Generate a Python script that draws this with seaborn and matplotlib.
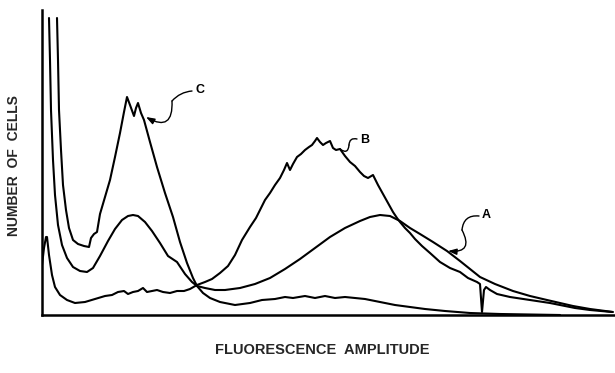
import matplotlib
matplotlib.use("Agg")
import matplotlib.pyplot as plt
import seaborn as sns
import pandas as pd

# channel (fluorescence amplitude) and counts
a_x = [7, 8, 9, 11, 13, 16, 20, 25, 31, 38, 45, 51, 58, 66, 73, 80, 86, 91, 96, 103, 110, 118, 126,
       135, 143, 150, 155, 163, 173, 183, 198, 213, 228, 243, 258, 273, 288, 303, 318, 328, 338, 348,
       358, 368, 378, 391, 405, 418, 428, 438, 453, 471, 488, 505, 518, 531, 548, 571]
a_y = [297, 255, 205, 155, 120, 90, 70, 57, 48, 44, 43, 47, 59, 74, 86, 95, 99, 100, 99, 93, 84, 72, 59,
       53, 41, 33, 29, 27, 25, 25, 27, 31, 37, 46, 56, 67, 78, 87, 94, 98, 100, 99,
       94, 87, 81, 73, 64, 54, 46, 38, 31, 24, 19, 15, 12, 9, 6, 3]

b_x = [0, 2, 4, 5, 7, 10, 13, 18, 25, 33, 43, 53, 63, 70, 76, 82, 86, 91, 96, 101, 105, 110, 115, 121,
       128, 135, 142, 148, 155, 163, 170, 178, 186, 193, 200, 208, 214, 218, 223, 228, 233, 238, 242,
       245, 248, 251, 255, 259, 263, 267, 270, 273, 275, 278, 281, 284, 288, 291, 294, 298, 303, 308,
       313, 318, 322, 326, 331, 336, 341, 346, 351, 355, 358, 363, 368, 373, 380, 388, 398, 408, 418,
       426, 435, 438, 440, 442, 444, 448, 455, 468, 488, 508, 523, 533, 548, 570]
b_y = [50, 67, 78, 78, 60, 40, 28, 20, 15, 12, 13, 16, 19, 20, 23, 24, 21, 23, 24, 27, 23, 24, 25, 23,
       22, 24, 24, 26, 30, 33, 36, 42, 49, 60, 75, 88, 97, 105, 115, 122, 130, 137, 145,
       152, 145, 151, 158, 161, 165, 168, 170, 174, 177, 173, 170, 172, 174, 167, 165, 166, 159, 153,
       149, 143, 139, 137, 140, 130, 121, 112, 103, 97, 93, 87, 82, 76, 69, 62, 53, 47, 43,
       37, 33, 31, 3, 25, 28, 25, 21, 18, 15, 12, 9, 7, 5, 3]

c_x = [15, 16, 17, 19, 21, 24, 27, 31, 36, 42, 47, 49, 52, 55, 58, 63, 68, 73, 78, 82, 85, 88, 92, 94,
       96, 99, 102, 108, 115, 123, 131, 138, 145, 151, 155, 161, 168, 178, 193, 208, 220, 233, 243,
       251, 263, 273, 283, 293, 303, 313, 323, 338, 353, 368, 383, 403, 428, 458, 518]
c_y = [297, 255, 205, 165, 130, 105, 87, 75, 71, 69, 68, 77, 81, 83, 101, 118, 135, 158, 182, 203, 218,
       210, 199, 207, 212, 202, 195, 173, 148, 122, 98, 73, 52, 37, 29, 22, 17, 13, 10, 12, 15, 16,
       18, 17, 19, 17, 19, 17, 18, 17, 16, 13, 10, 8, 6, 4, 2, 1, 0]

labels = ["A", "B", "C"]

frames = []
for name, xs, ys in [("A", a_x, a_y), ("B", b_x, b_y), ("C", c_x, c_y)]:
    frames.append(pd.DataFrame({"amplitude": xs, "cells": ys, "curve": name,
                                "order": range(len(xs))}))
df = pd.concat(frames, ignore_index=True)

sns.set_style("white")
plt.rcParams["font.family"] = ["Liberation Sans", "DejaVu Sans"]

fig = plt.figure(figsize=(6.15, 3.73), dpi=100)
ax = fig.add_axes([42 / 615, 58 / 373, 573 / 615, 305 / 373])

for name in labels:
    sub = df[df["curve"] == name]
    sns.lineplot(data=sub, x="amplitude", y="cells", sort=False, estimator=None,
                 color="black", linewidth=1.5, ax=ax)

ax.set_xlim(0, 573)
ax.set_ylim(0, 305)
ax.set_xticks([])
ax.set_yticks([])
ax.set_xlabel("")
ax.set_ylabel("")
for s in ["top", "right"]:
    ax.spines[s].set_visible(False)
for s in ["left", "bottom"]:
    ax.spines[s].set_color("black")
    ax.spines[s].set_linewidth(1.8)

tfont = dict(fontsize=9, fontweight="bold", color="black", ha="center", va="center")

# curve labels with squiggly leaders
def leader(label, text_xy, start, mid, tip, r1, r2, arrow=True):
    ax.text(text_xy[0], text_xy[1], label, **tfont)
    ax.annotate("", xy=mid, xytext=start,
                arrowprops=dict(arrowstyle="-", color="black", lw=1.0,
                                connectionstyle=f"arc3,rad={r1}", shrinkA=0, shrinkB=0))
    ax.annotate("", xy=tip, xytext=mid,
                arrowprops=dict(arrowstyle="-|>,head_length=0.5,head_width=0.18" if arrow else "-",
                                color="black", lw=1.0,
                                connectionstyle=f"arc3,rad={r2}", shrinkA=0, shrinkB=0))

leader("C", (158, 225), (150, 224), (130, 214), (104, 198), 0.2, -0.9)
leader("B", (323, 175), (315, 176), (307, 170), (298, 166), 0.6, -0.9, arrow=False)
leader("A", (444, 100), (437, 99), (420, 85), (406, 64), 0.5, -0.9)

fig.text(322 / 615, 1 - 350 / 373, "FLUORESCENCE  AMPLITUDE", fontsize=10.5, fontweight="bold",
         ha="center", va="center")
fig.text(14 / 615, 1 - 166 / 373, "NUMBER  OF  CELLS", fontsize=10, fontweight="bold",
         ha="center", va="center", rotation=90)

fig.savefig("out.png", dpi=100, facecolor="white")
